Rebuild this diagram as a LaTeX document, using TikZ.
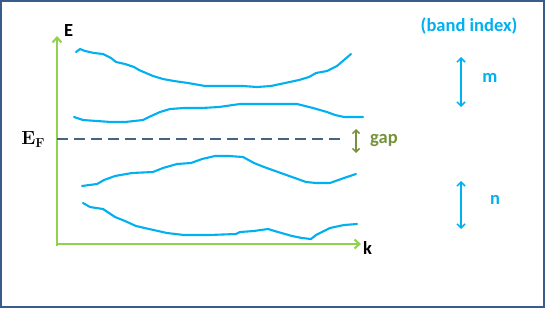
\documentclass[tikz,border=0pt]{standalone}
\usepackage{fontspec}
\setsansfont{Carlito}
\usetikzlibrary{arrows.meta}
\definecolor{bandc}{RGB}{0,176,240}
\definecolor{axisc}{RGB}{146,208,80}
\definecolor{olivec}{RGB}{118,146,60}
\definecolor{dashc}{RGB}{72,98,130}
\definecolor{framec}{RGB}{56,93,138}
\tikzset{
  x=1pt, y=-1pt,
  bandline/.style={bandc, line width=2.1pt, line join=round, line cap=round},
  axisline/.style={axisc, line width=2.4pt, -{Straight Barb[length=5pt,width=9pt,line width=2pt]}},
  idxarrow/.style={bandc, line width=1.5pt, {Straight Barb[length=4pt,width=8pt]}-{Straight Barb[length=4pt,width=8pt]}},
  lbl/.style={font=\sffamily\bfseries\fontsize{18.5}{20}\selectfont, inner sep=0pt},
}
\begin{document}
\begin{tikzpicture}
\useasboundingbox (0,0) rectangle (545,308);
\fill[white] (0,0) rectangle (545,308);
\draw[framec, line width=2pt] (1,1) rectangle (544,307);

% axes
\coordinate (O) at (57,244);
\coordinate (Etop) at (57,36);
\coordinate (Kend) at (361,244);
\draw[axisline] (57,246) -- (Etop);
\draw[axisline] (O) -- (Kend);
\node[lbl, anchor=west] (E) at (64,31) {E};
\node[lbl, anchor=west] (k) at (363,248) {k};

% Fermi level
\node[font=\bfseries\fontsize{19}{21}\selectfont, inner sep=0pt] (EF) at (33,140) {E\raisebox{-3pt}{\fontsize{13}{14}\selectfont F}};
\coordinate (d0) at (57,139);
\coordinate (d1) at (346,139);
\draw[dashc, line width=1.5pt, dash pattern=on 11pt off 6pt] (d0) -- (d1);

% gap arrow
\coordinate (g0) at (356,129);
\coordinate (g1) at (356,153);
\draw[olivec, line width=1.5pt, {Straight Barb[length=3.5pt,width=7pt]}-{Straight Barb[length=3.5pt,width=7pt]}] (g0) -- (g1);
\node[lbl, olivec, anchor=west] (gap) at (370,140) {gap};

% bands
\draw[bandline] (76,52)--(80,49)--(85,51)--(94,53)--(103,54)--(111,58)--(116,62)--(125,64)--(134,67)--(139,70)--(146,73)--(153,76)--(163,79)--(174,81)--(188,83)--(205,86)--(222,86)--(243,86)--(257,87)--(271,86)--(285,83)--(299,80)--(309,77)--(316,73)--(327,71)--(337,66)--(344,60)--(351,54);
\draw[bandline] (74,117)--(83,120)--(97,121)--(111,122)--(125,122)--(143,120)--(149,117)--(160,112)--(170,109)--(184,108)--(202,108)--(219,107)--(240,104)--(257,104)--(278,104)--(297,104)--(313,108)--(327,112)--(335,115)--(344,117)--(363,117);
\draw[bandline] (82,186)--(97,184)--(104,180)--(115,176)--(132,173)--(153,172)--(163,168)--(177,164)--(191,163)--(202,159)--(215,156)--(229,156)--(243,157)--(254,163)--(264,167)--(278,172)--(292,177)--(306,182)--(316,183)--(330,183)--(344,178)--(356,174);
\draw[bandline] (83,203)--(90,207)--(103,209)--(115,217)--(125,221)--(136,226)--(149,229)--(167,233)--(184,235)--(209,235)--(236,234)--(240,232)--(254,231)--(268,229)--(278,232)--(292,236)--(302,238)--(311,239)--(316,235)--(330,228)--(344,225)--(357,224);

% band index
\node[lbl, bandc] (bi) at (469,26) {(band index)};
\coordinate (m0) at (461,57);
\coordinate (m1) at (461,107);
\draw[idxarrow] (m0) -- (m1);
\node[lbl, bandc] (m) at (490,78) {m};
\coordinate (n0) at (461,181);
\coordinate (n1) at (461,229);
\draw[idxarrow] (n0) -- (n1);
\node[lbl, bandc] (n) at (495,200) {n};
\end{tikzpicture}
\end{document}
